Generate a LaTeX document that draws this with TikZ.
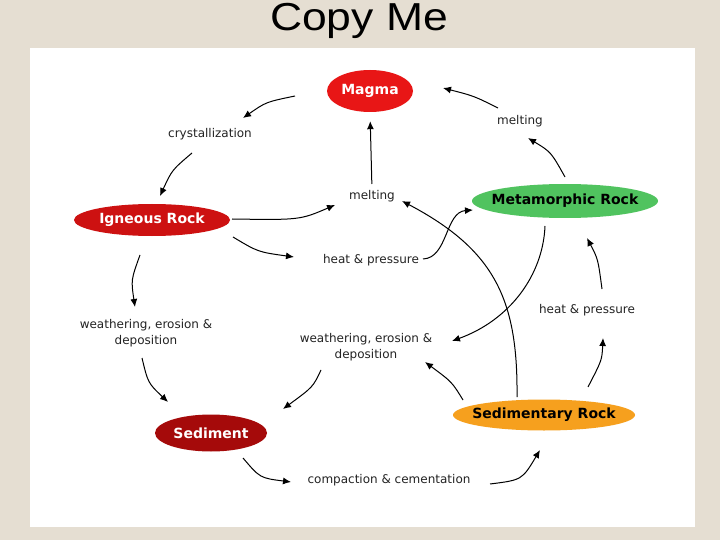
\documentclass[tikz,border=0pt]{standalone}
\usepackage{fontspec}
\setmainfont{DejaVu Sans}
\newfontfamily\titlefont{Liberation Sans}
\usetikzlibrary{arrows.meta,shapes.geometric}
\definecolor{bgbeige}{RGB}{229,222,210}
\definecolor{magmared}{RGB}{232,22,22}
\definecolor{igneousred}{RGB}{205,17,17}
\definecolor{metagreen}{RGB}{80,195,95}
\definecolor{sedorange}{RGB}{246,160,30}
\definecolor{sedimentred}{RGB}{165,10,10}
\definecolor{labelgray}{RGB}{35,35,35}
\newcommand\rocktxt[1]{\makebox[0pt]{#1}}
\begin{document}
\begin{tikzpicture}[x=1pt,y=-1pt,
  rock/.style={ellipse, inner sep=0pt, font=\bfseries\fontsize{14}{16}\selectfont},
  lbl/.style={font=\fontsize{12}{15.5}\selectfont, text=labelgray, align=center, inner sep=0pt},
  arr/.style={draw=black, line width=1pt, -{Latex[length=8pt,width=7pt]}}]
\useasboundingbox (0,0) rectangle (720,540);
\fill[bgbeige] (0,0) rectangle (720,540);
\fill[white] (30,48) rectangle (695,527);
\node[font=\titlefont\fontsize{39}{43}\selectfont, anchor=base, inner sep=0pt] (title) at (359,31) {\scalebox{1.14}[1]{Copy Me}};

% rocks
\node[rock, fill=magmared, text=white, minimum width=86pt, minimum height=42pt] (magma) at (370,91) {\rocktxt{Magma}};
\node[rock, fill=igneousred, text=white, minimum width=156pt, minimum height=32pt] (igneous) at (152,220) {\rocktxt{Igneous Rock}};
\node[rock, fill=metagreen, text=black, minimum width=186pt, minimum height=34pt] (meta) at (565,201) {\rocktxt{Metamorphic Rock}};
\node[rock, fill=sedorange, text=black, minimum width=182pt, minimum height=31pt] (sedrock) at (544,415) {\rocktxt{Sedimentary Rock}};
\node[rock, fill=sedimentred, text=white, minimum width=112pt, minimum height=37pt] (sediment) at (211,433) {\rocktxt{Sediment}};

% labels
\node[lbl] (cryst) at (210,134) {crystallization};
\node[lbl] (meltR) at (520,121) {melting};
\node[lbl] (meltC) at (372,196) {melting};
\node[lbl] (heatC) at (371,260) {heat \& pressure};
\node[lbl] (weathL) at (146,333) {weathering, erosion \&\\deposition};
\node[lbl] (weathC) at (366,347) {weathering, erosion \&\\deposition};
\node[lbl] (heatR) at (587,310) {heat \& pressure};
\node[lbl] (compact) at (389,480) {compaction \& cementation};

% arrow end points
\coordinate (a1s) at (295,96);  \coordinate (a1e) at (243,118);
\coordinate (a2s) at (192,153); \coordinate (a2e) at (160,196);
\coordinate (a3s) at (232,219); \coordinate (a3e) at (335,205);
\coordinate (a4s) at (233,237); \coordinate (a4e) at (294,257);
\coordinate (a5s) at (423,259); \coordinate (a5e) at (473,210);
\coordinate (a6s) at (517,397); \coordinate (a6e) at (402,201);
\coordinate (a7s) at (545,226); \coordinate (a7e) at (452,341);
\coordinate (a8s) at (463,400); \coordinate (a8e) at (425,362);
\coordinate (a9s) at (321,370); \coordinate (a9e) at (283,409);
\coordinate (a10s) at (140,255); \coordinate (a10e) at (135,307);
\coordinate (a11s) at (142,358); \coordinate (a11e) at (168,402);
\coordinate (a12s) at (243,458); \coordinate (a12e) at (291,482);
\coordinate (a13s) at (490,484); \coordinate (a13e) at (540,450);
\coordinate (a14s) at (588,387); \coordinate (a14e) at (603,338);
\coordinate (a15s) at (602,289); \coordinate (a15e) at (587,238);
\coordinate (a16s) at (565,177); \coordinate (a16e) at (528,138);
\coordinate (a17s) at (498,108); \coordinate (a17e) at (443,88);

% arrows
\draw[arr] (a1s) .. controls (266,102) .. (a1e);
\draw[arr] (a2s) .. controls (172,170) .. (a2e);
\draw[arr] (a3s) .. controls (300,220) .. (a3e);
\draw[arr] (a4s) .. controls (258,252) .. (a4e);
\draw[arr] (a5s) .. controls (448,258) and (445,212) .. (a5e);
\draw[arr] (a6s) .. controls (518,300) and (495,250) .. (a6e);
\draw[arr] (a7s) .. controls (543,275) and (510,320) .. (a7e);
\draw[arr] (a8s) .. controls (452,382) .. (a8e);
\draw[arr] (a9s) .. controls (313,387) .. (a9e);
\draw[arr] (a10s) .. controls (131,280) .. (a10e);
\draw[arr] (a11s) .. controls (148,383) .. (a11e);
\draw[arr] (a12s) .. controls (260,478) .. (a12e);
\draw[arr] (a13s) .. controls (522,480) .. (a13e);
\draw[arr] (a14s) .. controls (602,360) .. (a14e);
\draw[arr] (a15s) .. controls (598,259) .. (a15e);
\draw[arr] (a16s) .. controls (551,152) .. (a16e);
\draw[arr] (a17s) .. controls (474,96) .. (a17e);
\draw[arr, shorten <=6pt, shorten >=9pt] (meltC.north) -- (magma.south);
\end{tikzpicture}
\end{document}
